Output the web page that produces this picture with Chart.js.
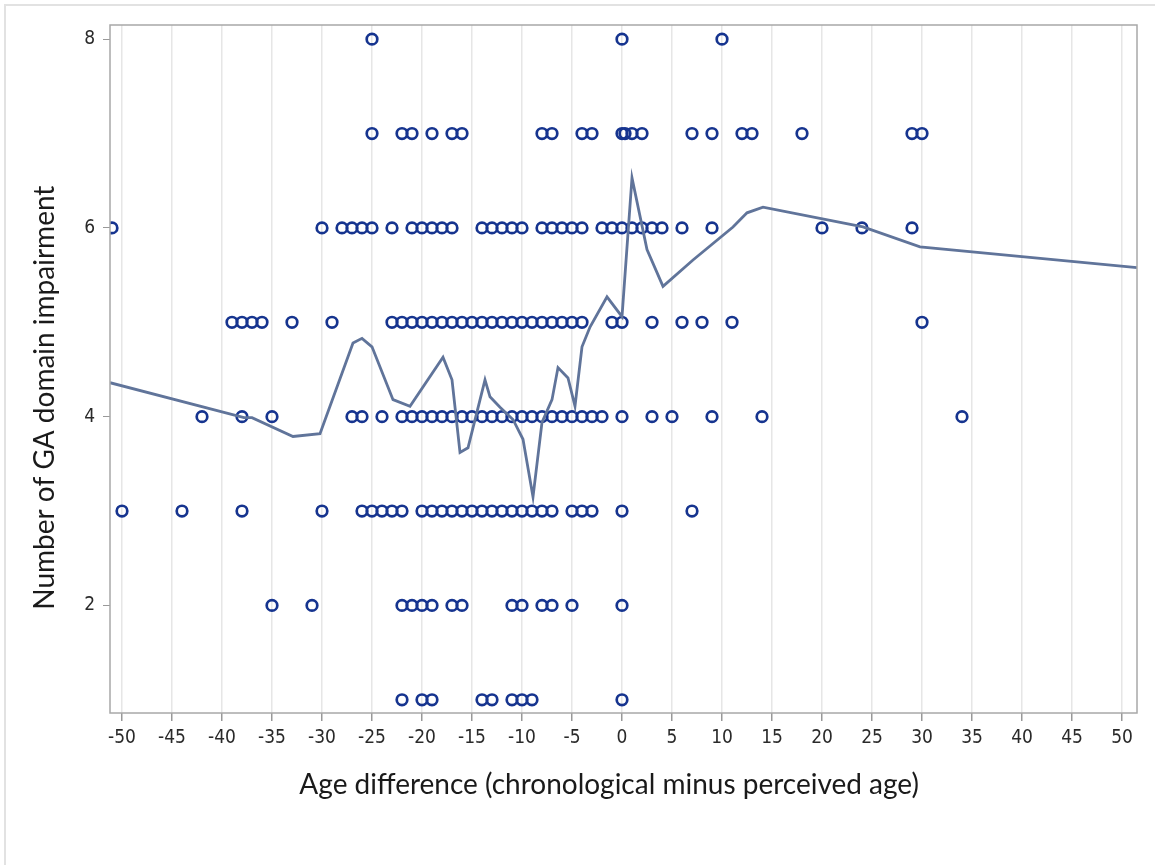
<!DOCTYPE html>
<html>
<head>
<meta charset="utf-8">
<script src="https://cdn.jsdelivr.net/npm/chart.js@4"></script>
<style>
  body { margin: 0; background: #fff; }
  #frame { position: absolute; left: 4px; top: 4px; width: 1200px; height: 900px; border: 2px solid #e2e2e2; }
  #wrap { position: absolute; left: 0; top: 0; width: 1155px; height: 865px; }
</style>
</head>
<body>
<div id="frame"></div>
<div id="wrap"><canvas id="myChart" width="1155" height="865"></canvas></div>
<script>
// age difference values of the points, one array per impairment count
const impair8 = [-25, 0, 10];
const impair7 = [-25, -22, -21, -19, -17, -16, -8, -7, -4, -3, 0, 0.3, 1, 2, 7, 9, 12, 13, 18, 29, 30];
const impair6 = [-51, -30, -28, -27, -26, -25, -23, -21, -20, -19, -18, -17, -14, -13, -12, -11, -10,
    -8, -7, -6, -5, -4, -2, -1, 0, 1, 2, 3, 4, 6, 9, 20, 24, 29];
const impair5 = [-39, -38, -37, -36, -33, -29, -23, -22, -21, -20, -19, -18, -17, -16, -15, -14, -13,
    -12, -11, -10, -9, -8, -7, -6, -5, -4, -1, 0, 3, 6, 8, 11, 30];
const impair4 = [-42, -38, -35, -27, -26, -24, -22, -21, -20, -19, -18, -17, -16, -15, -14, -13,
    -12, -11, -10, -9, -8, -7, -6, -5, -4, -3, -2, 0, 3, 5, 9, 14, 34];
const impair3 = [-50, -44, -38, -30, -26, -25, -24, -23, -22, -20, -19, -18, -17, -16, -15, -14, -13,
    -12, -11, -10, -9, -8, -7, -5, -4, -3, 0, 7];
const impair2 = [-35, -31, -22, -21, -20, -19, -17, -16, -11, -10, -8, -7, -5, 0];
const impair1 = [-22, -20, -19, -14, -13, -11, -10, -9, 0];

// smoothed fit line
const smoothX = [-51.2, -37.8, -37, -32.9, -30.2, -26.9, -26, -25, -22.9, -21.2, -17.9, -17, -16.2, -15.4,
    -13.7, -13.2, -12.2, -10.9, -9.9, -8.9, -8, -7, -6.4, -5.4, -4.7, -4, -3.2, -1.5, 0, 1, 2.5, 4.1,
    7.1, 11.1, 12.5, 14.1, 24.1, 29.8, 51.5];
const smoothY = [4.36, 3.99, 3.99, 3.79, 3.82, 4.78, 4.83, 4.74, 4.18, 4.11, 4.63, 4.39, 3.62, 3.67,
    4.39, 4.21, 4.1, 3.97, 3.76, 3.15, 3.94, 4.18, 4.52, 4.41, 4.11, 4.74, 4.95, 5.27, 5.06, 6.53, 5.77, 5.38,
    5.66, 6.01, 6.16, 6.22, 6.01, 5.8, 5.58];

const xTicks = [-50, -45, -40, -35, -30, -25, -20, -15, -10, -5, 0, 5, 10, 15, 20, 25, 30, 35, 40, 45, 50];
const yTicks = [2, 4, 6, 8];

const rows = [[1, impair1], [2, impair2], [3, impair3], [4, impair4], [5, impair5], [6, impair6], [7, impair7], [8, impair8]];
const points = [];
rows.forEach(r => r[1].forEach(x => points.push({ x: x, y: r[0] })));
const linePts = smoothX.map((x, i) => ({ x: x, y: smoothY[i] }));

const boxPlugin = {
    id: 'box',
    afterDraw(chart) {
        const a = chart.chartArea;
        const ctx = chart.ctx;
        ctx.save();
        ctx.strokeStyle = '#a8a8a8';
        ctx.lineWidth = 1.5;
        ctx.strokeRect(a.left, a.top, a.right - a.left, a.bottom - a.top);
        ctx.restore();
    }
};

const tickFont = { family: '"Liberation Sans Narrow", "DejaVu Sans Condensed", sans-serif', size: 19 };
const titleFont = { family: 'Lato, "Open Sans", sans-serif', size: 28 };

const config = {
    type: 'scatter',
    data: {
        datasets: [{
            type: 'line',
            data: linePts,
            borderColor: '#60749a',
            borderWidth: 2.8,
            pointRadius: 0,
            tension: 0,
            fill: false,
            order: 0
        }, {
            data: points,
            pointStyle: 'circle',
            pointRadius: 5.3,
            borderWidth: 2.7,
            borderColor: '#16348f',
            backgroundColor: 'rgba(0,0,0,0)',
            order: 1
        }]
    },
    options: {
        responsive: false,
        animation: false,
        layout: { padding: { left: 28, top: 25, right: 18, bottom: 63 } },
        plugins: {
            legend: { display: false },
            tooltip: { enabled: false }
        },
        scales: {
            x: {
                type: 'linear',
                min: -51.2,
                max: 51.5,
                afterBuildTicks: s => { s.ticks = xTicks.map(v => ({ value: v })); },
                afterFit: s => { s.height = 89; },
                ticks: { color: '#2a2a2a', font: tickFont, padding: 6, maxRotation: 0, autoSkip: false },
                grid: { color: '#e6e6e6', tickColor: '#999', tickLength: 8, lineWidth: 1.5 },
                border: { display: false },
                title: {
                    display: true,
                    // trailing spaces nudge the centred title a little to the left
                    text: 'Age difference (chronological minus perceived age)    ',
                    color: '#1a1a1a',
                    font: titleFont,
                    padding: 0
                }
            },
            y: {
                min: 0.86,
                max: 8.15,
                afterBuildTicks: s => { s.ticks = yTicks.map(v => ({ value: v })); },
                afterFit: s => { s.width = 82; },
                ticks: { color: '#2a2a2a', font: tickFont, padding: 8 },
                grid: { drawOnChartArea: false, tickColor: '#999', tickLength: 7 },
                border: { display: false },
                title: {
                    display: true,
                    text: 'Number of GA domain impairment        ',
                    color: '#1a1a1a',
                    font: titleFont,
                    padding: 0
                }
            }
        }
    },
    plugins: [boxPlugin]
};

const myChart = new Chart('myChart', config);
</script>
</body>
</html>
